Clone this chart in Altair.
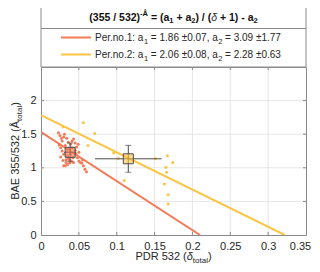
import altair as alt
import pandas as pd

# ---------------- data ----------------
p1_x = [0.023, 0.025, 0.027, 0.028, 0.024, 0.026, 0.028, 0.030, 0.026, 0.029, 0.030, 0.032,
        0.035, 0.033, 0.035, 0.037, 0.039, 0.041, 0.043, 0.045, 0.047, 0.044, 0.042, 0.040,
        0.038, 0.036, 0.034, 0.032, 0.030, 0.031, 0.046, 0.048, 0.050, 0.052, 0.054, 0.056,
        0.058, 0.060, 0.055, 0.050, 0.043, 0.037, 0.033, 0.045, 0.039, 0.041, 0.049, 0.036, 0.034]
p1_y = [1.52, 1.48, 1.44, 1.40, 1.34, 1.30, 1.25, 1.20, 1.16, 1.11, 1.03, 1.03,
        1.05, 1.12, 1.18, 1.28, 1.35, 1.40, 1.43, 1.37, 1.31, 1.22, 1.15, 1.10,
        1.07, 1.14, 1.24, 1.33, 1.46, 1.50, 1.20, 1.15, 1.10, 1.08, 1.07, 1.03,
        0.98, 0.94, 1.12, 1.23, 1.08, 1.12, 1.08, 1.26, 1.20, 1.30, 1.35, 1.38, 1.44]
p2_x = [0.029, 0.056, 0.071, 0.062, 0.096, 0.102, 0.110, 0.151, 0.167, 0.174, 0.165,
        0.166, 0.163, 0.168, 0.168]
p2_y = [1.61, 1.67, 1.51, 1.33, 1.22, 1.14, 0.81, 1.14, 1.18, 1.08, 1.01,
        0.935, 0.76, 0.60, 0.46]

fit1_x = [0.0, 0.210]
fit1_y = [1.53, 0.0]
fit2_x = [0.0, 0.322]
fit2_y = [1.785, 0.0]

mean_x = [0.0385, 0.1153]
mean_y = [1.23, 1.134]
mean_xerr = [0.008, 0.044]
mean_yerr = [0.14, 0.20]

series = ["Per.no.1", "Per.no.2"]
x_ticks = [0, 0.05, 0.1, 0.15, 0.2, 0.25, 0.3, 0.35]
y_ticks = [0, 0.5, 1, 1.5, 2]
y_grid = [0.5, 1, 1.5, 2]

# ---------------- style ----------------
ORANGE = "#F47B57"
YELLOW = "#FCC443"
FRAME = "#8a8a8a"
TXT = "#262626"
W, H = 265, 168

xs = alt.Scale(domain=[0, 0.35], nice=False, zero=False)
ys = alt.Scale(domain=[0, 2.5], nice=False, zero=False)
cs = alt.Scale(domain=series, range=[ORANGE, YELLOW])

AX = alt.Axis(values=x_ticks, labelExpr="datum.value + ''", title=None, grid=False, ticks=False,
              domain=False, labelFont="Liberation Sans", labelFontSize=11, labelColor=TXT,
              labelPadding=5, labelFlush=False,
              labelOffset={"condition": {"test": "datum.value > 0.34", "value": -6}, "value": 0})
AY = alt.Axis(values=y_ticks, labelExpr="datum.value + ''", title=None, grid=False, ticks=False,
              domain=False, labelFont="Liberation Sans", labelFontSize=11, labelColor=TXT,
              labelPadding=5, labelFlush=False)


def X(f):
    return alt.X(f, scale=xs, axis=AX)


def Y(f):
    return alt.Y(f, scale=ys, axis=AY)


pts = pd.DataFrame({
    "x": p1_x + p2_x,
    "y": p1_y + p2_y,
    "s": [series[0]] * len(p1_x) + [series[1]] * len(p2_x),
})
fits = pd.DataFrame({
    "x": fit1_x + fit2_x,
    "y": fit1_y + fit2_y,
    "s": [series[0]] * 2 + [series[1]] * 2,
})
means = pd.DataFrame({
    "x": mean_x, "y": mean_y, "s": series,
    "x0": [m - e for m, e in zip(mean_x, mean_xerr)],
    "x1": [m + e for m, e in zip(mean_x, mean_xerr)],
    "y0": [m - e for m, e in zip(mean_y, mean_yerr)],
    "y1": [m + e for m, e in zip(mean_y, mean_yerr)],
})

GRID = "#e6e6e6"
xgrid = alt.Chart(pd.DataFrame({"x": x_ticks[1:-1]})).mark_rule(color=GRID, strokeWidth=1).encode(
    x=X("x:Q"), y=alt.value(0), y2=alt.value(H))
ygrid = alt.Chart(pd.DataFrame({"y": y_grid})).mark_rule(color=GRID, strokeWidth=1).encode(
    y=Y("y:Q"), x=alt.value(0), x2=alt.value(W))

scatter = alt.Chart(pts).mark_circle(size=9, opacity=1).encode(
    x=X("x:Q"), y=Y("y:Q"),
    color=alt.Color("s:N", scale=cs, legend=None),
)

lines = alt.Chart(fits).mark_line(strokeWidth=2, clip=True).encode(
    x=X("x:Q"), y=Y("y:Q"),
    color=alt.Color("s:N", scale=cs, legend=None),
    detail="s:N",
)

EB = "#4d4d4d"
ebx = alt.Chart(means).mark_rule(color=EB, strokeWidth=1).encode(x=X("x0:Q"), x2="x1:Q", y=Y("y:Q"))
eby = alt.Chart(means).mark_rule(color=EB, strokeWidth=1).encode(y=Y("y0:Q"), y2="y1:Q", x=X("x:Q"))
cap_top = alt.Chart(means).mark_tick(color=EB, orient="horizontal", size=6, thickness=1).encode(
    x=X("x:Q"), y=Y("y1:Q"))
cap_bot = alt.Chart(means).mark_tick(color=EB, orient="horizontal", size=6, thickness=1).encode(
    x=X("x:Q"), y=Y("y0:Q"))
squares = alt.Chart(means).mark_square(size=100, fillOpacity=0.6, stroke=EB, strokeWidth=1).encode(
    x=X("x:Q"), y=Y("y:Q"),
    fill=alt.Fill("s:N", scale=cs, legend=None))

# inward ticks on all four sides
tb = alt.Chart(pd.DataFrame({"x": x_ticks[1:-1]}))
tick_b = tb.mark_rule(color=FRAME).encode(x=X("x:Q"), y=alt.value(H), y2=alt.value(H - 3))
tick_t = tb.mark_rule(color=FRAME).encode(x=X("x:Q"), y=alt.value(0), y2=alt.value(3))
tl = alt.Chart(pd.DataFrame({"y": y_grid}))
tick_l = tl.mark_rule(color=FRAME).encode(y=Y("y:Q"), x=alt.value(0), x2=alt.value(3))
tick_r = tl.mark_rule(color=FRAME).encode(y=Y("y:Q"), x=alt.value(W), x2=alt.value(W - 3))

# legend box
one = pd.DataFrame({"k": [0]})
box = alt.Chart(one).mark_rect(fill="white", stroke=FRAME, strokeWidth=1).encode(
    x=alt.value(0), x2=alt.value(W), y=alt.value(-63), y2=alt.value(0))
sep = alt.Chart(one).mark_rule(color=FRAME, strokeWidth=1).encode(
    x=alt.value(0), x2=alt.value(W), y=alt.value(-38.5))
leg1 = alt.Chart(one).mark_rule(color=ORANGE, strokeWidth=2).encode(
    x=alt.value(20), x2=alt.value(50), y=alt.value(-29.5))
leg2 = alt.Chart(one).mark_rule(color=YELLOW, strokeWidth=2).encode(
    x=alt.value(20), x2=alt.value(50), y=alt.value(-12.5))

# ---------------- rich text layout ----------------
REG = {' ': 278, '(': 333, ')': 333, '.': 278, ',': 278, ':': 278, '/': 278, '=': 584, '+': 584,
       '-': 333, '±': 584, 'a': 556, 'e': 556, 'o': 556, 'n': 556, 'r': 333, 't': 278, 'l': 222,
       'P': 667, 'D': 722, 'R': 722, 'B': 667, 'A': 667, 'E': 667, 'Å': 667, 'δ': 556}
BOLD = {' ': 278, '(': 333, ')': 333, '/': 278, '=': 584, '+': 584, '-': 333, 'a': 556,
        'Å': 722, 'δ': 611}


def width(s, size, bold):
    tbl = BOLD if bold else REG
    return sum(tbl.get(c, 556) for c in s) * size / 1000.0


rows = []


def place(pieces, x0, y0, center=True, angle=0):
    # pieces: (text, size, dy, bold, italic)
    ws = [width(t, sz, b) for t, sz, dy, b, it in pieces]
    total = sum(ws)
    cum = -total / 2 if center else 0
    for (t, sz, dy, b, it), w in zip(pieces, ws):
        s = t.lstrip(" ")
        lead = width(t[:len(t) - len(s)], sz, b)
        c = cum + lead
        if angle == 0:
            px, py = x0 + c, y0 + dy
        else:
            px, py = x0 + dy, y0 - c
        rows.append({"t": s, "px": px, "py": py, "sz": sz,
                     "fw": "bold" if b else "normal", "fs": "italic" if it else "normal", "ang": angle})
        cum += w


TS, SS = 10.5, 7.5
place([("(355 / 532)", TS, 0, True, False), ("-Å", SS, -4.5, True, False),
       (" = (a", TS, 0, True, False), ("1", SS, 2.5, True, False),
       (" + a", TS, 0, True, False), ("2", SS, 2.5, True, False),
       (") / (", TS, 0, True, False), ("δ", TS, 0, False, True),
       (" + 1) - a", TS, 0, True, False), ("2", SS, 2.5, True, False)], W / 2, -46.5)
LS, LSS = 10, 7.5
place([("Per.no.1: a", LS, 0, False, False), ("1", LSS, 2.5, False, False),
       (" = 1.86 ±0.07, a", LS, 0, False, False), ("2", LSS, 2.5, False, False),
       (" = 3.09 ±1.77", LS, 0, False, False)], 54, -25.8, center=False)
place([("Per.no.2: a", LS, 0, False, False), ("1", LSS, 2.5, False, False),
       (" = 2.06 ±0.08, a", LS, 0, False, False), ("2", LSS, 2.5, False, False),
       (" = 2.28 ±0.63", LS, 0, False, False)], 54, -8.8, center=False)
place([("PDR 532 (", 11, 0, False, False), ("δ", 11, 0, False, True),
       ("total", 8, 3, False, False), (")", 11, 0, False, False)], W / 2, 193)
place([("BAE 355/532 (Å", 11, 0, False, False), ("total", 8, 3, False, False),
       (")", 11, 0, False, False)], -22.5, H / 2, angle=270)

tdf = pd.DataFrame(rows)
text_layers = []
for (sz, fw, fs, ang), g in tdf.groupby(["sz", "fw", "fs", "ang"]):
    text_layers.append(
        alt.Chart(g.reset_index(drop=True)).mark_text(
            align="left", baseline="alphabetic", font="Liberation Sans", fontSize=float(sz),
            fontWeight=fw, fontStyle=fs, angle=float(ang), color=TXT if fw == "normal" else "#111111"
        ).encode(x=alt.X("px:Q", scale=None), y=alt.Y("py:Q", scale=None), text="t:N")
    )

chart = alt.layer(
    xgrid, ygrid, scatter, lines, ebx, eby, cap_top, cap_bot, squares,
    tick_b, tick_t, tick_l, tick_r, box, sep, leg1, leg2, *text_layers
).properties(
    width=W, height=H,
    autosize=alt.AutoSizeParams(type="none"),
    padding={"left": 33, "top": 59, "right": 6, "bottom": 29},
    background="white",
).configure_view(stroke=FRAME, strokeWidth=1)

chart.save("out.html", embed_options={"renderer": "svg", "actions": False})
